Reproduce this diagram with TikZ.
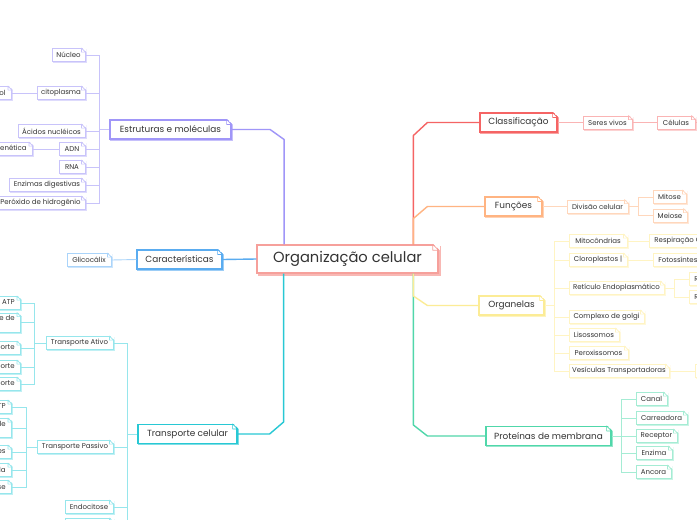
\documentclass[tikz,border=0pt]{standalone}
\usepackage{fontspec}
\setmainfont{Poppins}
\usetikzlibrary{shadows,calc}
\definecolor{txt}{RGB}{51,51,51}
\definecolor{cen}{RGB}{246,160,155}
\definecolor{pur}{RGB}{160,150,248}
\definecolor{purl}{RGB}{200,195,250}
\definecolor{blu}{RGB}{90,172,240}
\definecolor{blul}{RGB}{170,212,250}
\definecolor{tcol}{RGB}{40,200,212}
\definecolor{tcoll}{RGB}{150,230,236}
\definecolor{redc}{RGB}{245,100,100}
\definecolor{redl}{RGB}{250,180,180}
\definecolor{orac}{RGB}{255,180,130}
\definecolor{oral}{RGB}{255,215,188}
\definecolor{yelc}{RGB}{252,236,150}
\definecolor{yell}{RGB}{255,244,195}
\definecolor{grec}{RGB}{80,215,170}
\definecolor{grel}{RGB}{165,236,212}
\newcommand\dogear[3]{%
  \fill[white] ([xshift=-#3pt,yshift=1pt]#1.north east) -- ([xshift=1.2pt,yshift=1pt]#1.north east) -- ([xshift=1.2pt,yshift=-#3pt]#1.north east) -- cycle;
  \draw[#2,line width=0.7pt,line join=round] ([xshift=-#3pt]#1.north east) -- ([xshift=-#3pt,yshift=-#3pt]#1.north east) -- ([yshift=-#3pt]#1.north east) -- cycle;}
\tikzset{
  x=1pt, y=-1pt,
  boxs/.style={draw=#1, fill=white, inner sep=0pt, text=txt,
    copy shadow={shadow xshift=1pt, shadow yshift=-1pt, draw=#1!60, fill=white}},
  leaf/.style={boxs=#1, line width=0.8pt, minimum height=13pt, align=left,
    font=\fontsize{7}{8.5}\selectfont},
  branch/.style={boxs=#1, line width=1.2pt, minimum height=19pt,
    font=\fontsize{8.9}{10}\selectfont},
  mainline/.style={draw=#1, line width=1.4pt, line join=round},
  subline/.style={draw=#1, line width=0.9pt},
  edgeE/.style={anchor=east, inner xsep=6pt},
  edgeW/.style={anchor=west, inner xsep=5pt},
}
\begin{document}
\begin{tikzpicture}
\fill[white] (0,0) rectangle (697,520);
\useasboundingbox (0,0) rectangle (697,520);

% central
\node[draw=cen, line width=1.4pt, fill=white, inner sep=0pt, minimum width=181pt, minimum height=28pt,
  text=txt, font=\fontsize{14.7}{17}\selectfont,
  copy shadow={shadow xshift=2pt, shadow yshift=-2pt, draw=cen!75, fill=white}] (org) at (347.5,259) {Organização celular};

% main branches
\node[branch=pur, minimum width=121pt] (est) at (170.5,129.5) {Estruturas e moléculas};
\node[branch=blu, minimum width=85pt] (carac) at (179.5,259.5) {Características};
\node[branch=tcol, minimum width=99pt] (tra) at (187.5,434) {Transporte celular};
\node[branch=redc, minimum width=77pt] (cls) at (518.5,122.5) {Classificação};
\node[branch=orac, minimum width=57pt] (fun) at (513.5,206.5) {Funções};
\node[branch=yelc, minimum width=65pt] (orgs) at (511.5,305.5) {Organelas};
\node[branch=grec, minimum width=125pt] (prot) at (548.5,436) {Proteínas de membrana};

% purple leaves
\node[leaf=purl, minimum width=33pt] (nuc) at (68.5,55) {Núcleo};
\node[leaf=purl, minimum width=48pt] (cit) at (61,93) {citoplasma};
\node[leaf=purl, edgeE] (cits) at (12,93) {Citosol};
\node[leaf=purl, minimum width=67pt] (aci) at (51.5,131) {Ácidos nucléicos};
\node[leaf=purl, minimum width=26pt] (adn) at (72,149) {ADN};
\node[leaf=purl, edgeE] (gen) at (33,149) {Informação genética};
\node[leaf=purl, minimum width=26pt] (rna) at (72,167) {RNA};
\node[leaf=purl, minimum width=76pt] (enz) at (47,185) {Enzimas digestivas};
\node[leaf=purl, minimum width=89pt] (pero) at (40.5,203) {Peróxido de hidrogênio};

% blue leaf
\node[leaf=blul, minimum width=44pt] (gli) at (89,260) {Glicocálix};

% teal leaves
\node[leaf=tcoll, minimum width=67pt] (ati) at (79.5,343) {Transporte Ativo};
\node[leaf=tcoll, minimum width=76pt] (pas) at (75,447) {Transporte Passivo};
\node[leaf=tcoll, minimum width=48pt] (endo) at (89,507) {Endocitose};
\node[leaf=tcoll, minimum width=48pt] (exo) at (89,525) {Exocitose};
\node[leaf=tcoll, edgeE] (a1) at (21,303) {Com gasto de ATP};
\node[leaf=tcoll, edgeE, minimum height=19pt] (a2) at (21,322.5) {Contra o gradiente de\\concentração};
\node[leaf=tcoll, edgeE] (a3) at (21,348) {Uniporte};
\node[leaf=tcoll, edgeE] (a4) at (21,367) {Simporte};
\node[leaf=tcoll, edgeE] (a5) at (21,384) {Antiporte};
\node[leaf=tcoll, edgeE] (p1) at (12,407) {Sem gasto de ATP};
\node[leaf=tcoll, edgeE, minimum height=19pt] (p2) at (12,428) {Entrada sem controle\\da célula};
\node[leaf=tcoll, edgeE] (p3) at (12,452) {Difusão simples};
\node[leaf=tcoll, edgeE] (p4) at (12,470) {Difusão facilitada};
\node[leaf=tcoll, edgeE] (p5) at (12,487) {Osmose};

% red leaves
\node[leaf=redl, minimum width=49pt] (sv) at (607.5,122.5) {Seres vivos};
\node[leaf=redl, minimum width=38pt] (cel) at (676,122.5) {Células};

% orange leaves
\node[leaf=oral, minimum width=61pt] (div) at (597.5,206.5) {Divisão celular};
\node[leaf=oral, minimum width=33pt] (mit) at (669.5,197) {Mitose};
\node[leaf=oral, minimum width=34pt] (mei) at (670,215.5) {Meiose};

% yellow leaves
\node[leaf=yell, minimum width=58pt] (mito) at (598,241) {Mitocôndrias};
\node[leaf=yell, edgeW] (resp) at (649,241) {Respiração Celular};
\node[leaf=yell, minimum width=58pt] (clo) at (598,260) {Cloroplastos |};
\node[leaf=yell, edgeW] (foto) at (653,260) {Fotossíntese};
\node[leaf=yell, minimum width=95pt] (ret) at (616.5,288) {Retículo Endoplasmático};
\node[leaf=yell, edgeW] (rer) at (689,279) {RER};
\node[leaf=yell, edgeW] (rel) at (689,297) {REL};
\node[leaf=yell, minimum width=75pt] (golgi) at (606.5,317) {Complexo de golgi};
\node[leaf=yell, minimum width=50pt] (lis) at (594,335) {Lisossomos};
\node[leaf=yell, minimum width=59pt] (perox) at (598.5,353) {Peroxissomos};
\node[leaf=yell, minimum width=100pt] (ves) at (619,371) {Vesículas Transportadoras};
\node[leaf=yell, anchor=west, minimum width=40pt] (vesc) at (695,371) {};

% green leaves
\node[leaf=grel, minimum width=31pt] (can) at (651.5,399) {Canal};
\node[leaf=grel, minimum width=51pt] (carr) at (661.5,418) {Carreadora};
\node[leaf=grel, minimum width=41pt] (rec) at (656.5,436) {Receptor};
\node[leaf=grel, minimum width=36pt] (enzi) at (654,453) {Enzima};
\node[leaf=grel, minimum width=35pt] (anc) at (653.5,472) {Ancora};

% main connectors
\draw[mainline=pur] (est.east) -- ++(38.5,0) -- ++(14,10) coordinate (pq) -- (pq |- org.north);
\draw[mainline=blu] (carac.east) -- (org.west);
\draw[mainline=tcol] (tra.east) -- ++(32,0) -- ++(14,-12) coordinate (tq) -- (tq |- org.south);
\draw[mainline=redc] (cls.west) -- ++(-52,0) -- ++(-14,13) coordinate (rq) -- (rq |- org.north);
\draw[mainline=orac] (fun.west) -- ++(-57,0) -- ++(-14,12) coordinate (oq) -- (oq |- org.north);
\draw[mainline=grec] (prot.west) -- ++(-58,0) -- ++(-14,-11) coordinate (gq) -- (gq |- org.south);
\draw[mainline=yelc] (orgs.west) -- ++(-51,0) -- ++(-14,-9.5) coordinate (yq) -- (yq |- org.south);

% sub connectors
\draw[subline=purl] (est.west) -- ++(-10,0) coordinate (sE);
\foreach \c in {nuc,cit,aci,adn,rna,enz,pero} \draw[subline=purl] (sE) |- (\c.east);
\draw[subline=purl] (cit.west) -- (cits.east);
\draw[subline=purl] (adn.west) -- (gen.east);
\draw[subline=blul] (carac.west) -- (gli.east);
\draw[subline=tcoll] (tra.west) -- ++(-10,0) coordinate (sT);
\foreach \c in {ati,pas,endo,exo} \draw[subline=tcoll] (sT) |- (\c.east);
\draw[subline=tcoll] (ati.west) -- ++(-11,0) coordinate (sA);
\foreach \c in {a1,a2,a3,a4,a5} \draw[subline=tcoll] (sA) |- (\c.east);
\draw[subline=tcoll] (pas.west) -- ++(-10,0) coordinate (sP);
\foreach \c in {p1,p2,p3,p4,p5} \draw[subline=tcoll] (sP) |- (\c.east);
\draw[subline=redl] (cls.east) -- (sv.west);
\draw[subline=redl] (sv.east) -- (cel.west);
\draw[subline=redl] (cel.east) -- ++(8,0) coordinate (celend);
\draw[subline=oral] (fun.east) -- (div.west);
\draw[subline=oral] (div.east) -- ++(10,0) coordinate (sD);
\foreach \c in {mit,mei} \draw[subline=oral] (sD) |- (\c.west);
\draw[subline=yell] (orgs.east) -- ++(10,0) coordinate (sO);
\foreach \c in {mito,clo,ret,golgi,lis,perox,ves} \draw[subline=yell] (sO) |- (\c.west);
\draw[subline=yell] (mito.east) -- (resp.west);
\draw[subline=yell] (clo.east) -- (foto.west);
\draw[subline=yell] (ret.east) -- ++(10,0) coordinate (sR);
\foreach \c in {rer,rel} \draw[subline=yell] (sR) |- (\c.west);
\draw[subline=yell] (ves.east) -- (vesc.west);
\draw[subline=grel] (prot.east) -- ++(10,0) coordinate (sG);
\foreach \c in {can,carr,rec,enzi,anc} \draw[subline=grel] (sG) |- (\c.west);

% folded corners
\dogear{org}{cen}{6}
\foreach \n/\c in {est/pur,carac/blu,tra/tcol,cls/redc,fun/orac,orgs/yelc,prot/grec} {\dogear{\n}{\c}{5}}
\foreach \n/\c in {nuc/purl,cit/purl,cits/purl,aci/purl,adn/purl,gen/purl,rna/purl,enz/purl,pero/purl,
  gli/blul,ati/tcoll,pas/tcoll,endo/tcoll,exo/tcoll,a1/tcoll,a2/tcoll,a3/tcoll,a4/tcoll,a5/tcoll,
  p1/tcoll,p2/tcoll,p3/tcoll,p4/tcoll,p5/tcoll,sv/redl,cel/redl,div/oral,mit/oral,mei/oral,
  mito/yell,clo/yell,ret/yell,rer/yell,rel/yell,golgi/yell,lis/yell,perox/yell,ves/yell,
  can/grel,carr/grel,rec/grel,enzi/grel,anc/grel} {\dogear{\n}{\c}{4}}
\end{tikzpicture}
\end{document}
